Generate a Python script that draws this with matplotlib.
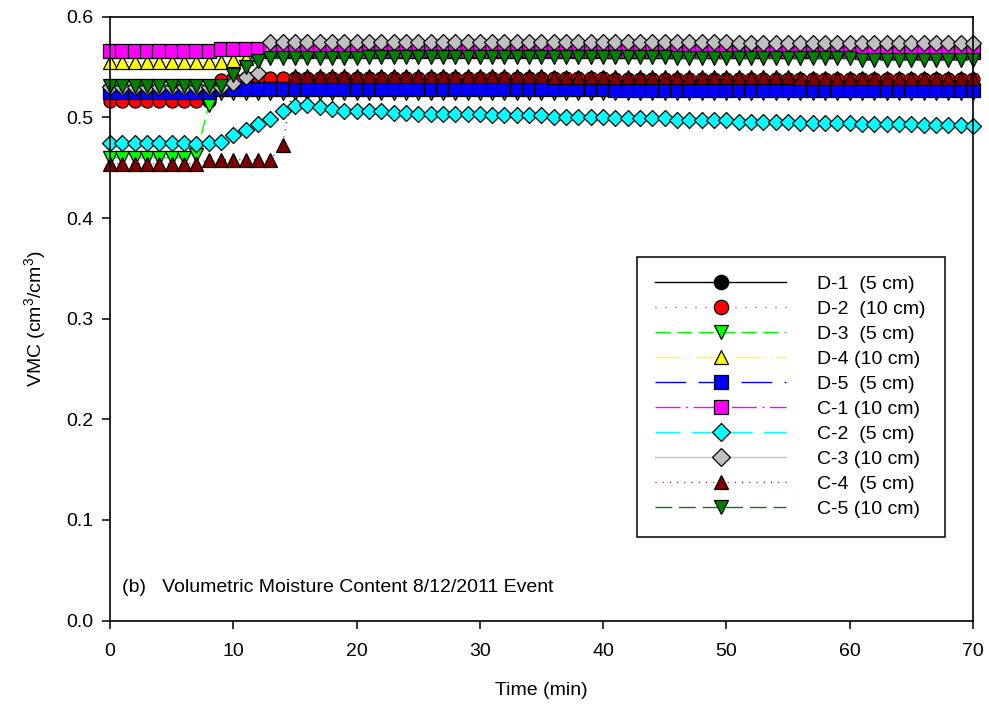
import numpy as np
import matplotlib
matplotlib.use('Agg')
import matplotlib.pyplot as plt
from matplotlib import rc

rc('font', family='Liberation Sans', size=14)
rc('mathtext', fontset='custom', rm='Liberation Sans', it='Liberation Sans:italic')
rc('lines', linewidth=1)

# sampling times, one reading per minute
time_min = np.arange(0, 71)

# volumetric moisture content, cm3/cm3
d1 = []  # no readings logged for D-1
d2 = [0.516, 0.516, 0.516, 0.516, 0.516, 0.516, 0.516, 0.516, 0.516, 0.537,
      0.539, 0.539, 0.539, 0.539, 0.539, 0.539, 0.539, 0.539, 0.539, 0.539,
      0.539, 0.539, 0.539, 0.539, 0.539, 0.539, 0.539, 0.539, 0.539, 0.539,
      0.539, 0.539, 0.539, 0.539, 0.539, 0.539, 0.539, 0.539, 0.539, 0.539,
      0.539, 0.538, 0.538, 0.538, 0.538, 0.538, 0.538, 0.538, 0.538, 0.538,
      0.538, 0.538, 0.538, 0.538, 0.538, 0.538, 0.538, 0.538, 0.538, 0.538,
      0.538, 0.538, 0.538, 0.538, 0.538, 0.538, 0.538, 0.538, 0.538, 0.538,
      0.538]
d3 = [0.460, 0.460, 0.460, 0.460, 0.460, 0.460, 0.460, 0.463, 0.512, 0.524,
      0.524, 0.524, 0.524, 0.524, 0.524, 0.524, 0.524, 0.524, 0.524, 0.524,
      0.524, 0.524, 0.524, 0.524, 0.524, 0.524, 0.524, 0.524, 0.524, 0.524,
      0.524, 0.524, 0.524, 0.524, 0.524, 0.524, 0.524, 0.524, 0.524, 0.524,
      0.524, 0.524, 0.524, 0.524, 0.524, 0.524, 0.524, 0.524, 0.524, 0.524,
      0.524, 0.524, 0.524, 0.524, 0.524, 0.524, 0.524, 0.524, 0.524, 0.524,
      0.524, 0.524, 0.524, 0.524, 0.524, 0.524, 0.524, 0.524, 0.524, 0.524,
      0.524]
d4 = [0.555, 0.555, 0.555, 0.555, 0.555, 0.555, 0.555, 0.555, 0.555, 0.555,
      0.557, 0.559, 0.566, 0.566, 0.566, 0.566, 0.566, 0.566, 0.566, 0.566,
      0.566, 0.566, 0.566, 0.566, 0.566, 0.566, 0.566, 0.566, 0.566, 0.566,
      0.566, 0.566, 0.566, 0.566, 0.566, 0.566, 0.566, 0.566, 0.566, 0.566,
      0.566, 0.566, 0.566, 0.566, 0.566, 0.566, 0.566, 0.566, 0.566, 0.566,
      0.566, 0.566, 0.566, 0.566, 0.566, 0.566, 0.566, 0.566, 0.566, 0.566,
      0.566, 0.566, 0.566, 0.566, 0.566, 0.566, 0.566, 0.566, 0.566, 0.566,
      0.566]
d5 = [0.525, 0.525, 0.525, 0.525, 0.525, 0.525, 0.525, 0.525, 0.525, 0.528,
      0.528, 0.528, 0.528, 0.528, 0.528, 0.528, 0.528, 0.528, 0.528, 0.528,
      0.528, 0.528, 0.528, 0.528, 0.528, 0.528, 0.528, 0.528, 0.528, 0.528,
      0.528, 0.528, 0.528, 0.528, 0.528, 0.528, 0.528, 0.528, 0.528, 0.528,
      0.528, 0.527, 0.527, 0.527, 0.527, 0.527, 0.527, 0.527, 0.527, 0.527,
      0.527, 0.527, 0.527, 0.527, 0.527, 0.527, 0.527, 0.527, 0.527, 0.527,
      0.527, 0.527, 0.527, 0.527, 0.527, 0.527, 0.527, 0.527, 0.527, 0.527,
      0.527]
c1 = [0.566, 0.566, 0.566, 0.566, 0.566, 0.566, 0.566, 0.566, 0.566, 0.568,
      0.568, 0.568, 0.568, 0.567, 0.567, 0.567, 0.567, 0.567, 0.567, 0.567,
      0.567, 0.567, 0.567, 0.567, 0.567, 0.567, 0.567, 0.567, 0.567, 0.567,
      0.567, 0.567, 0.567, 0.567, 0.567, 0.567, 0.567, 0.567, 0.567, 0.567,
      0.567, 0.566, 0.566, 0.566, 0.566, 0.566, 0.566, 0.566, 0.566, 0.566,
      0.566, 0.566, 0.566, 0.566, 0.566, 0.566, 0.566, 0.566, 0.566, 0.566,
      0.566, 0.565, 0.565, 0.565, 0.565, 0.565, 0.565, 0.565, 0.565, 0.565,
      0.565]
c2 = [0.475, 0.475, 0.475, 0.475, 0.475, 0.475, 0.475, 0.474, 0.475, 0.476,
      0.483, 0.488, 0.494, 0.498, 0.506, 0.511, 0.512, 0.510, 0.508, 0.506,
      0.506, 0.506, 0.506, 0.504, 0.504, 0.503, 0.503, 0.503, 0.503, 0.503,
      0.503, 0.502, 0.502, 0.502, 0.502, 0.502, 0.500, 0.500, 0.500, 0.500,
      0.500, 0.499, 0.499, 0.499, 0.499, 0.499, 0.497, 0.497, 0.497, 0.497,
      0.497, 0.496, 0.496, 0.496, 0.496, 0.496, 0.495, 0.495, 0.495, 0.495,
      0.495, 0.494, 0.494, 0.494, 0.494, 0.494, 0.493, 0.493, 0.493, 0.493,
      0.492]
c3 = [0.530, 0.530, 0.530, 0.530, 0.530, 0.530, 0.530, 0.530, 0.530, 0.530,
      0.534, 0.540, 0.544, 0.575, 0.575, 0.575, 0.575, 0.575, 0.575, 0.575,
      0.575, 0.575, 0.575, 0.575, 0.575, 0.575, 0.575, 0.575, 0.575, 0.575,
      0.575, 0.575, 0.575, 0.575, 0.575, 0.575, 0.575, 0.575, 0.575, 0.575,
      0.575, 0.575, 0.575, 0.575, 0.575, 0.575, 0.575, 0.575, 0.575, 0.575,
      0.575, 0.574, 0.574, 0.574, 0.574, 0.574, 0.574, 0.574, 0.574, 0.574,
      0.574, 0.574, 0.574, 0.574, 0.574, 0.574, 0.574, 0.574, 0.574, 0.574,
      0.574]
c4 = [0.454, 0.454, 0.454, 0.454, 0.454, 0.454, 0.454, 0.454, 0.458, 0.458,
      0.458, 0.458, 0.458, 0.458, 0.473, 0.541, 0.541, 0.541, 0.541, 0.541,
      0.541, 0.541, 0.541, 0.541, 0.541, 0.541, 0.541, 0.541, 0.541, 0.541,
      0.541, 0.541, 0.541, 0.541, 0.541, 0.541, 0.540, 0.540, 0.540, 0.540,
      0.540, 0.540, 0.540, 0.540, 0.540, 0.540, 0.540, 0.540, 0.540, 0.540,
      0.540, 0.540, 0.540, 0.540, 0.540, 0.540, 0.539, 0.539, 0.539, 0.539,
      0.539, 0.539, 0.539, 0.539, 0.539, 0.539, 0.539, 0.539, 0.539, 0.539,
      0.539]
c5 = [0.531, 0.531, 0.531, 0.531, 0.531, 0.531, 0.531, 0.531, 0.531, 0.531,
      0.542, 0.550, 0.556, 0.559, 0.559, 0.559, 0.559, 0.559, 0.559, 0.559,
      0.559, 0.560, 0.560, 0.560, 0.560, 0.560, 0.560, 0.560, 0.560, 0.560,
      0.560, 0.560, 0.560, 0.560, 0.560, 0.560, 0.560, 0.560, 0.560, 0.560,
      0.560, 0.560, 0.560, 0.560, 0.560, 0.560, 0.559, 0.559, 0.559, 0.559,
      0.559, 0.559, 0.559, 0.559, 0.559, 0.559, 0.559, 0.559, 0.559, 0.559,
      0.559, 0.557, 0.557, 0.557, 0.557, 0.557, 0.557, 0.557, 0.557, 0.557,
      0.557]

labels = ['D-1  (5 cm)', 'D-2  (10 cm)', 'D-3  (5 cm)', 'D-4 (10 cm)',
          'D-5  (5 cm)', 'C-1 (10 cm)', 'C-2  (5 cm)', 'C-3 (10 cm)',
          'C-4  (5 cm)', 'C-5 (10 cm)']
series = [d1, d2, d3, d4, d5, c1, c2, c3, c4, c5]

colors = ['#000000', '#FF0000', '#00FF00', '#FFFF00', '#0000FF',
          '#FF00FF', '#00FFFF', '#C0C0C0', '#800000', '#008000']
markers = ['o', 'o', 'v', '^', 's', 's', 'D', 'D', '^', 'v']
styles = ['-', (0, (0.7, 6.5)), (0, (11, 4.5)), (0, (18, 3, 1, 3, 1, 3)),
          (0, (22, 9)), (0, (18, 4, 1.5, 4)), (0, (18, 8)), '-',
          (0, (0.7, 4.5)), (0, (12, 5))]

fig, ax = plt.subplots(figsize=(9.89, 7.06), dpi=100)
fig.subplots_adjust(left=0.1112, right=0.9838, bottom=0.1211, top=0.9761)

for lab, vals, col, mk, ls in zip(labels, series, colors, markers, styles):
    ms = 8.3 if mk == 'D' else 9.4
    x = time_min[:len(vals)]
    ax.plot(x, vals, color=col, linestyle=ls, marker=mk, markersize=ms,
            markerfacecolor=col, markeredgecolor='black', markeredgewidth=0.9,
            label=lab, clip_on=False)

ax.set_xlim(0, 70)
ax.set_ylim(0.0, 0.6)
ax.set_xticks(np.arange(0, 71, 10))
ax.set_yticks(np.arange(0, 0.61, 0.1))
ax.yaxis.set_major_formatter(matplotlib.ticker.FormatStrFormatter('%.1f'))
ax.tick_params(direction='out', length=6, width=1.1, top=False, right=False)
ax.tick_params(axis='x', pad=10)
ax.tick_params(axis='y', pad=6)
for sp in ax.spines.values():
    sp.set_linewidth(1.2)

ax.set_xlabel('Time (min)', labelpad=16)
ax.set_ylabel('VMC (cm$^3$/cm$^3$)', labelpad=13)

ax.text(0.0136, 0.054, '(b)   Volumetric Moisture Content 8/12/2011 Event',
        transform=ax.transAxes, ha='left', va='center')

leg = ax.legend(loc='upper left', bbox_to_anchor=(0.6107, 0.0, 0.357, 0.6022),
                mode='expand', borderaxespad=0, fancybox=False, framealpha=1,
                edgecolor='black', handlelength=6.7, handletextpad=1.6,
                labelspacing=0.38, borderpad=0.95, markerscale=1.1)
leg.get_frame().set_linewidth(1.1)

fig.savefig('out.png', dpi=100)
